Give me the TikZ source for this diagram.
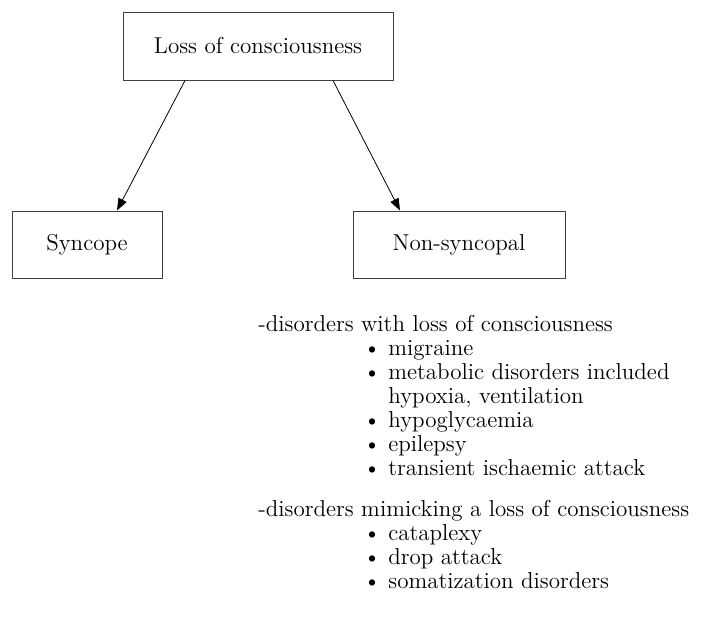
\documentclass[tikz,border=0pt]{standalone}
\usetikzlibrary{arrows.meta}

\begin{document}
\begin{tikzpicture}[x=0.5pt, y=-0.5pt, font=\fontsize{11.5}{13}\selectfont]

    \useasboundingbox (0,0) rectangle (703,617);

    \tikzset{caja/.style={draw=black!75, line width=0.5pt, inner sep=0pt},
             flecha/.style={-{Triangle[length=6pt, width=4.5pt]}, line width=0.4pt}}

    % cajas
    \node[caja, minimum width=135pt, minimum height=34pt] (loc) at (258,46) {Loss of consciousness};
    \node[caja, minimum width=75pt, minimum height=33.5pt] (syn) at (87,244.5) {Syncope};
    \node[caja, minimum width=106pt, minimum height=33.5pt] (non) at (459,244.5) {Non-syncopal};

    % flechas
    \draw[flecha] ([xshift=-36.5pt]loc.south) -- ([xshift=15pt]syn.north);
    \draw[flecha] ([xshift=37.5pt]loc.south) -- ([xshift=-29.5pt]non.north);

    % primer grupo
    \node[anchor=base west, inner sep=0pt] (g1) at (258,331) {-disorders with loss of consciousness};
    \foreach \y/\txt [count=\i] in {355/migraine, 379/metabolic disorders included, 427/hypoglycaemia, 451/epilepsy, 475/transient ischaemic attack}{
    \node[anchor=base west, inner sep=0pt] (a\i) at (388,\y) {\llap{\textbullet\ }\txt};}
    \node[anchor=base west, inner sep=0pt] (a6) at (388,403) {hypoxia, ventilation};

    % segundo grupo
    \node[anchor=base west, inner sep=0pt] (g2) at (258,516) {-disorders mimicking a loss of consciousness};
    \foreach \y/\txt [count=\i] in {540/cataplexy, 564/drop attack, 588/somatization disorders}{
    \node[anchor=base west, inner sep=0pt] (b\i) at (388,\y) {\llap{\textbullet\ }\txt};}

\end{tikzpicture}
\end{document}
